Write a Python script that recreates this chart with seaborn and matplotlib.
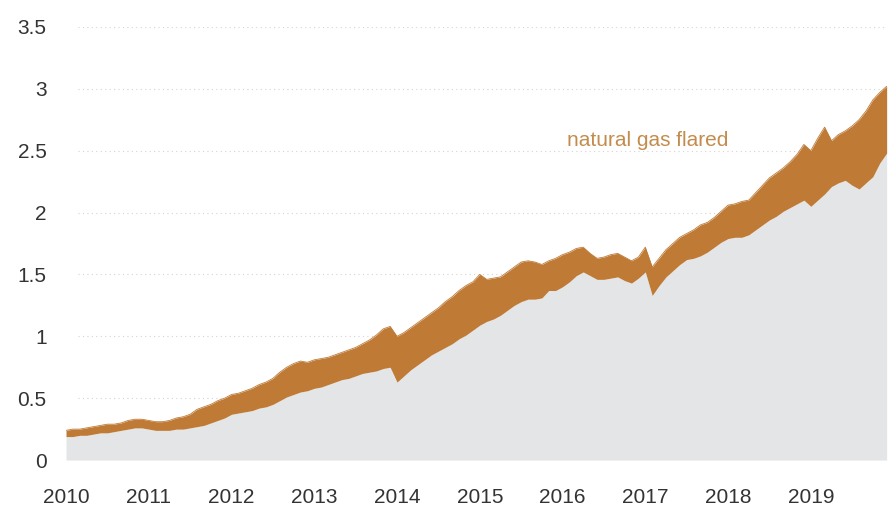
import numpy as np
import matplotlib.pyplot as plt
import seaborn as sns
import pandas as pd

# monthly values, Jan 2010 - Dec 2019
years = list(range(2010, 2020))

# top of the brown band (total)
total = [
    0.24, 0.25, 0.25, 0.26, 0.27, 0.28, 0.29, 0.29, 0.30, 0.32, 0.33, 0.33,   # 2010
    0.32, 0.31, 0.31, 0.32, 0.34, 0.35, 0.37, 0.41, 0.43, 0.45, 0.48, 0.50,   # 2011
    0.53, 0.54, 0.56, 0.58, 0.61, 0.63, 0.66, 0.71, 0.75, 0.78, 0.80, 0.79,   # 2012
    0.81, 0.82, 0.83, 0.85, 0.87, 0.89, 0.91, 0.94, 0.97, 1.01, 1.06, 1.08,   # 2013
    1.00, 1.03, 1.07, 1.11, 1.15, 1.19, 1.23, 1.28, 1.32, 1.37, 1.41, 1.44,   # 2014
    1.50, 1.46, 1.47, 1.48, 1.52, 1.56, 1.60, 1.61, 1.60, 1.58, 1.61, 1.63,   # 2015
    1.66, 1.68, 1.71, 1.72, 1.67, 1.63, 1.64, 1.66, 1.67, 1.64, 1.61, 1.64,   # 2016
    1.72, 1.56, 1.63, 1.70, 1.75, 1.80, 1.83, 1.86, 1.90, 1.92, 1.96, 2.01,   # 2017
    2.06, 2.07, 2.09, 2.10, 2.16, 2.22, 2.28, 2.32, 2.36, 2.41, 2.47, 2.55,   # 2018
    2.50, 2.60, 2.69, 2.58, 2.63, 2.66, 2.70, 2.75, 2.82, 2.91, 2.97, 3.02,   # 2019
]

# top of the grey area (gas not flared)
not_flared = [
    0.19, 0.19, 0.20, 0.20, 0.21, 0.22, 0.22, 0.23, 0.24, 0.25, 0.26, 0.26,
    0.25, 0.24, 0.24, 0.24, 0.25, 0.25, 0.26, 0.27, 0.28, 0.30, 0.32, 0.34,
    0.37, 0.38, 0.39, 0.40, 0.42, 0.43, 0.45, 0.48, 0.51, 0.53, 0.55, 0.56,
    0.58, 0.59, 0.61, 0.63, 0.65, 0.66, 0.68, 0.70, 0.71, 0.72, 0.74, 0.75,
    0.63, 0.68, 0.73, 0.77, 0.81, 0.85, 0.88, 0.91, 0.94, 0.98, 1.01, 1.05,
    1.09, 1.12, 1.14, 1.17, 1.21, 1.25, 1.28, 1.30, 1.30, 1.31, 1.37, 1.37,
    1.40, 1.44, 1.49, 1.52, 1.49, 1.46, 1.46, 1.47, 1.48, 1.45, 1.43, 1.47,
    1.52, 1.33, 1.41, 1.48, 1.53, 1.58, 1.62, 1.63, 1.65, 1.68, 1.72, 1.76,
    1.79, 1.80, 1.80, 1.82, 1.86, 1.90, 1.94, 1.97, 2.01, 2.04, 2.07, 2.10,
    2.05, 2.10, 2.15, 2.21, 2.24, 2.26, 2.22, 2.19, 2.24, 2.29, 2.40, 2.48,
]

y_ticks = [0, 0.5, 1, 1.5, 2, 2.5, 3, 3.5]
y_labels = ['0', '0.5', '1', '1.5', '2', '2.5', '3', '3.5']

df = pd.DataFrame({'t': [y + m / 12 for y in years for m in range(12)],
                   'total': total, 'grey': not_flared})
df['flared'] = df['total'] - df['grey']

sns.set_style('white')
plt.rcParams['font.family'] = ['Liberation Sans', 'DejaVu Sans']

grey_c = '#e3e5e6'
brown_c = '#bf7a36'

fig = plt.figure(figsize=(8.92, 5.27), dpi=100)
ax = fig.add_axes([0.074, 0.127, 0.92, 0.822])

ax.stackplot(df['t'], df['grey'], df['flared'],
             colors=[grey_c, brown_c], linewidth=0)
sns.lineplot(data=df, x='t', y='total', color=brown_c, lw=0.6, ax=ax)

ax.set_xlim(df['t'].iloc[0], df['t'].iloc[-1])
ax.set_ylim(0, 3.5)
ax.set_xticks(years)
ax.set_xticklabels([str(y) for y in years])
ax.set_yticks(y_ticks)
ax.set_yticklabels(y_labels)
ax.tick_params(axis='x', length=0, pad=20, labelsize=15, labelcolor='#333333')
ax.tick_params(axis='y', length=0, pad=14, labelsize=15, labelcolor='#333333')
ax.set_xlabel('')
ax.set_ylabel('')

for v in y_ticks[1:]:
    ax.axhline(v, xmin=0.015, color='#d4d4d4', lw=0.8, ls=(0, (1, 3)), zorder=0)

for s in ax.spines.values():
    s.set_visible(False)

ax.text(2016.06, 2.58, 'natural gas flared', color='#c48c4c',
        fontsize=15, ha='left', va='center')

fig.savefig('out.png', dpi=100)
